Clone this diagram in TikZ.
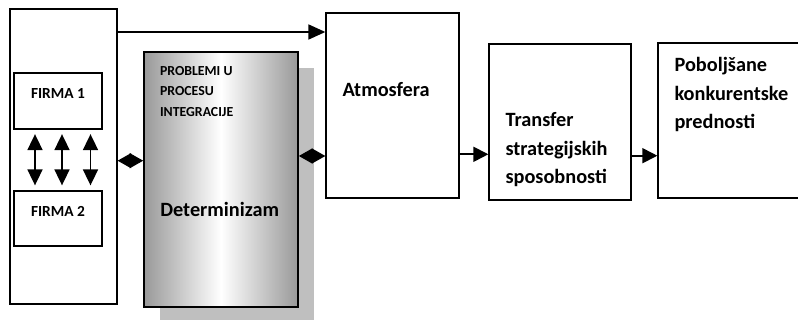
\documentclass[tikz,border=0pt]{standalone}
\usepackage{fontspec}
\setmainfont{Carlito}
\usetikzlibrary{arrows.meta,shadows,positioning}

\tikzset{
  box/.style={draw, line width=1.3pt, inner sep=0pt, fill=white},
  bigtxt/.style={font=\fontsize{20.3}{28.5}\selectfont\bfseries, align=left, inner sep=0pt},
  smalltxt/.style={font=\fontsize{13.8}{20.3}\selectfont\bfseries, align=left, inner sep=0pt},
  firmtxt/.style={font=\fontsize{15.4}{16}\selectfont\bfseries, inner sep=0pt},
  arr/.style={line width=1.8pt, -{Triangle[length=15pt,width=15pt]}},
  dbl/.style={line width=1.8pt, {Triangle[length=16pt,width=15pt]}-{Triangle[length=16pt,width=15pt]}},
  dia/.style={line width=1pt, {Triangle[length=13.5pt,width=15pt]}-{Triangle[length=13.5pt,width=15pt]}}
}

\begin{document}
\begin{tikzpicture}[x=1pt,y=-1pt]
	\useasboundingbox (0,0) rectangle (798,320);
	% boxes
	\node[box, minimum width=107pt, minimum height=295pt] (outer) at (63.5,156.5) {};
	\node[box, minimum width=88pt, minimum height=56pt] (firma1) at (58,101) {};
	\node[box, minimum width=88pt, minimum height=55pt] (firma2) at (58,218.5) {};
	\node[box, line width=1.7pt, minimum width=154pt, minimum height=255pt,
		left color=black!40, right color=black!40, middle color=white,
		drop shadow={shadow xshift=16pt, shadow yshift=-16pt, fill=black!25, opacity=1}] (prob) at (221,179.5) {};
	\node[box, minimum width=133pt, minimum height=185pt] (atm) at (392.5,105.5) {};
	\node[box, minimum width=142pt, minimum height=156pt] (tr) at (560,122) {};
	\node[box, minimum width=147pt, minimum height=155pt] (pob) at (731.5,120.5) {};
	% texts
	\node[firmtxt, below=15.5pt of firma1.north] (f1txt) {FIRMA 1};
	\node[firmtxt, below=15.5pt of firma2.north] (f2txt) {FIRMA 2};
	\node[smalltxt, anchor=north west, below right=15.2pt and 16.7pt of prob.north west] (probtxt) {PROBLEMI U\\PROCESU\\INTEGRACIJE};
	\node[bigtxt, anchor=north west, below right=151pt and 17pt of prob.north west] (dettxt) {Determinizam};
	\node[bigtxt, anchor=north west, below right=70pt and 17pt of atm.north west] (atmtxt) {Atmosfera};
	\node[bigtxt, anchor=north west, below right=69pt and 17pt of tr.north west] (trtxt) {Transfer\\strategijskih\\sposobnosti};
	\node[bigtxt, anchor=north west, below right=15pt and 17pt of pob.north west] (pobtxt) {Poboljšane\\konkurentske\\prednosti};
	% levels of the connectors
	\coordinate (ytop) at (0,32);
	\coordinate (yleft) at (0,160.7);
	\coordinate (yright) at (0,156);
	\coordinate (ya) at (0,154.3);
	\coordinate (yb) at (0,155.7);
	% connectors
	\draw[line width=1.8pt, -{Triangle[length=17pt,width=15pt]}] (outer.east |- ytop) -- (atm.west |- ytop);
	\draw[dia] (outer.east |- yleft) -- (prob.west |- yleft);
	\draw[dia] (prob.east |- yright) -- (atm.west |- yright);
	\draw[arr] (atm.east |- ya) -- (tr.west |- ya);
	\draw[arr] (tr.east |- yb) -- (pob.west |- yb);
	\foreach \x [count=\i] in {35,62,90.5}{
		\coordinate (c\i) at (\x,0);
		\draw[dbl, shorten <=4.5pt, shorten >=5pt] (firma1.south -| c\i) -- (firma2.north -| c\i);
	}
\end{tikzpicture}
\end{document}
